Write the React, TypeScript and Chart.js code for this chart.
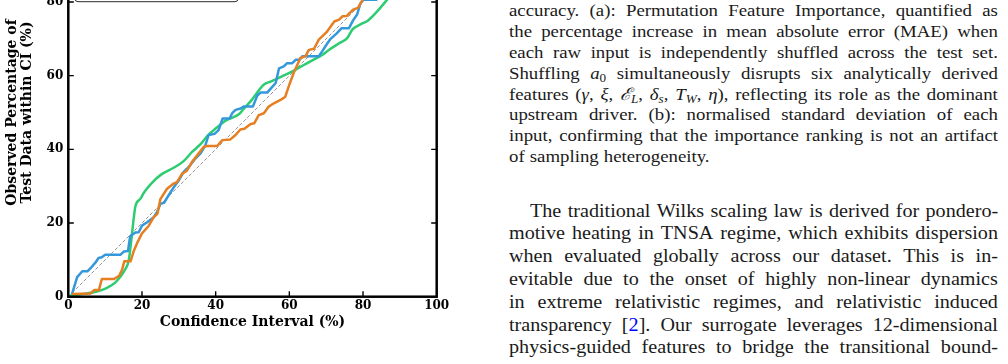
import React, { useEffect, useRef } from 'react';
import { Chart, registerables } from 'chart.js';

Chart.register(...registerables);

// Calibration curves: nominal confidence interval (%) vs observed coverage (%)
const ciBlue = [1, 2.4, 3.8, 5.2, 6.1, 7.4, 8.2, 9.1, 10, 14.2, 15.1, 16.2, 16.8, 18.2, 19.1, 20, 21.4, 23.2, 24.1, 25, 26, 26.9, 28.5, 30, 31.3, 32.7, 34.5, 35.9, 37.2, 38.1, 39.7, 40.8, 41.9, 43.8, 44.5, 45.4, 46.8, 47.6, 50.1, 51.3, 52.2, 54, 55.3, 56.3, 57.2, 58.5, 59.4, 60.8, 61.7, 62.8, 63.6, 68, 68.9, 70.2, 71.2, 72.8, 74.2, 76.2, 77.3, 78.4, 79.3, 80.1, 83.6, 87, 90, 95, 100];
const obsBlue = [0.7, 5.3, 6.9, 6.9, 7.8, 9.3, 10.5, 10.7, 11.4, 11.4, 12.3, 12.4, 16.4, 17.4, 17.5, 19.3, 20.2, 21.6, 23, 25.2, 25.5, 27, 29.5, 31.6, 33.9, 35.2, 37.5, 38.9, 41.1, 43.9, 44.2, 45.2, 48.4, 48.4, 49.8, 50.7, 51.1, 51.6, 51.6, 54.6, 55.4, 55.4, 56.9, 58, 62, 62.5, 63.4, 63.4, 64.3, 64.3, 65.3, 65.3, 66.6, 68.6, 70, 71.4, 72.9, 72.9, 75, 76.6, 79.6, 80.6, 80.6, 84, 88, 93, 100];

const ciOrange = [1, 6.1, 7, 8.3, 9.1, 12.4, 13.8, 14.6, 15.2, 16.9, 17.8, 18.7, 20, 21.8, 23.2, 24.2, 25, 26.8, 28.6, 29.5, 30.9, 32.2, 33.6, 35.4, 36.8, 37.7, 40.4, 41.8, 44, 45.4, 46.7, 47.8, 49.5, 50.5, 51.7, 53.1, 54.4, 55.8, 57.6, 58.9, 59.9, 61.2, 63, 64.4, 65.3, 66.7, 68, 70.1, 72.2, 73.5, 74.4, 75.6, 77.3, 78.6, 80, 85, 90, 95, 100];
const obsOrange = [0.7, 0.9, 1.8, 1.8, 4.8, 4.8, 5.7, 7.3, 9.6, 9.6, 12.5, 14.6, 17.2, 19.2, 21.6, 22.5, 26.5, 29.3, 30.7, 31.1, 33.4, 34.2, 36.6, 38.9, 40.7, 40.9, 40.9, 42.5, 42.7, 43.9, 45.4, 45.6, 46.9, 47.1, 49.3, 49.8, 51.6, 52.5, 53.4, 54.3, 57.3, 60.8, 64.8, 65.3, 67, 67.3, 69.8, 71.8, 74.7, 75.2, 76.1, 76.2, 77.9, 78.4, 80.7, 86, 90, 95, 100];

const ciGreen = [0.5, 3, 6.9, 10.5, 12.8, 14.1, 15.5, 16.4, 17, 17.8, 18.2, 19.6, 20.5, 22.7, 25, 28.6, 31.3, 33.6, 35.9, 37.7, 40.4, 42.7, 46.3, 47.6, 49.7, 53.1, 54.9, 58, 61.5, 63.9, 66.7, 68.9, 70.9, 73.5, 75.7, 77.1, 79.3, 81.4, 83.9, 86.6, 90, 95, 100];
const obsGreen = [0.3, 0.6, 1.2, 2.4, 3.9, 5.4, 7.5, 9.8, 14.4, 21.6, 24.5, 26.6, 28.2, 30.9, 33, 35, 36.8, 39.3, 41.4, 43.6, 46, 47.8, 49.5, 51, 53.3, 57.6, 58.4, 59.8, 61.5, 62.9, 64.4, 65.6, 67.1, 68.8, 70.2, 72.5, 73.9, 75, 77.5, 80.7, 85, 91, 100];

// Perfect calibration diagonal
const idealLine = [0, 100];

const axisTicks = [0, 20, 40, 60, 80, 100];
const xTitle = 'Confidence Interval (%)';
const yTitle = ['Observed Percentage of', 'Test Data within CI (%)'];

const toPoints = (xs: number[], ys: number[]) => xs.map((x, i) => ({ x, y: ys[i] }));

const CANVAS_W = 470;
const CANVAS_H = 454;
const CANVAS_TOP = -90;

const tickFont = { family: 'DejaVu Serif', weight: 'bold' as const, size: 12 };
const titleFont = { family: 'DejaVu Serif', weight: 'bold' as const, size: 14, lineHeight: 1.04 };

// Boxed axes with inward tick marks, plus the legend frame
const framePlugin = {
  id: 'boxedFrame',
  afterDatasetsDraw(chart: any) {
    const { ctx, chartArea: a, scales } = chart;
    const xs = scales.x;
    const ys = scales.y;
    ctx.save();

    // legend frame (upper-left inside the axes)
    const lx = a.left + 6.7;
    const lw = 163;
    const ly = a.top + 7;
    const lh = 66.4;
    const r = 3;
    ctx.beginPath();
    ctx.moveTo(lx + r, ly);
    ctx.arcTo(lx + lw, ly, lx + lw, ly + lh, r);
    ctx.arcTo(lx + lw, ly + lh, lx, ly + lh, r);
    ctx.arcTo(lx, ly + lh, lx, ly, r);
    ctx.arcTo(lx, ly, lx + lw, ly, r);
    ctx.closePath();
    ctx.fillStyle = 'rgba(255,255,255,0.9)';
    ctx.fill();
    ctx.strokeStyle = '#2a2a2a';
    ctx.lineWidth = 1;
    ctx.stroke();

    // inward ticks on all four sides
    const tl = 5.5;
    ctx.strokeStyle = '#000';
    ctx.lineWidth = 1.4;
    ctx.beginPath();
    for (const v of axisTicks) {
      const px = xs.getPixelForValue(v);
      const py = ys.getPixelForValue(v);
      ctx.moveTo(px, a.bottom);
      ctx.lineTo(px, a.bottom - tl);
      ctx.moveTo(px, a.top);
      ctx.lineTo(px, a.top + tl);
      ctx.moveTo(a.left, py);
      ctx.lineTo(a.left + tl, py);
      ctx.moveTo(a.right, py);
      ctx.lineTo(a.right - tl, py);
    }
    ctx.stroke();

    // spines
    ctx.lineWidth = 2.5;
    ctx.strokeRect(a.left, a.top, a.right - a.left, a.bottom - a.top);
    ctx.restore();
  },
};

function CalibrationChart() {
  const ref = useRef<HTMLCanvasElement | null>(null);

  useEffect(() => {
    if (!ref.current) return;
    const chart = new Chart(ref.current, {
      type: 'line',
      data: {
        datasets: [
          {
            label: 'orange',
            data: toPoints(ciOrange, obsOrange),
            borderColor: '#e67e22',
            borderWidth: 2.5,
            tension: 0,
            order: 1,
          },
          {
            label: 'blue',
            data: toPoints(ciBlue, obsBlue),
            borderColor: '#3498db',
            borderWidth: 2.5,
            tension: 0,
            order: 2,
          },
          {
            label: 'green',
            data: toPoints(ciGreen, obsGreen),
            borderColor: '#2ecc71',
            borderWidth: 2.5,
            cubicInterpolationMode: 'monotone',
            order: 3,
          },
          {
            label: 'ideal',
            data: toPoints(idealLine, idealLine),
            borderColor: 'rgba(0,0,0,0.42)',
            borderWidth: 1,
            borderDash: [3.5, 2],
            order: 4,
          },
        ],
      },
      options: {
        animation: false,
        responsive: false,
        devicePixelRatio: 1,
        layout: { padding: { left: 0, top: 18.3, right: 33.3, bottom: 34.2 } },
        elements: { point: { radius: 0 }, line: { fill: false, borderCapStyle: 'butt', borderJoinStyle: 'round' } },
        plugins: { legend: { display: false }, tooltip: { enabled: false } },
        scales: {
          x: {
            type: 'linear',
            min: 0,
            max: 100,
            afterFit: (s: any) => {
              s.height = 33.1;
            },
            afterBuildTicks: (s: any) => {
              s.ticks = axisTicks.map((v) => ({ value: v }));
            },
            grid: { display: false, drawTicks: false, tickLength: 0 },
            border: { display: false },
            ticks: { padding: 2, color: '#000', font: tickFont, maxRotation: 0, autoSkip: false },
            title: { display: true, text: xTitle, color: '#000', font: titleFont, padding: 0 },
          },
          y: {
            type: 'linear',
            min: 0,
            max: 100,
            afterFit: (s: any) => {
              s.width = 68.3;
            },
            afterBuildTicks: (s: any) => {
              s.ticks = axisTicks.map((v) => ({ value: v }));
            },
            grid: { display: false, drawTicks: false, tickLength: 0 },
            border: { display: false },
            ticks: { padding: 5, color: '#000', font: tickFont, autoSkip: false },
            title: { display: true, text: yTitle, color: '#000', font: titleFont, padding: { top: 5.2, bottom: 0 } },
          },
        },
      },
      plugins: [framePlugin],
    } as any);
    return () => chart.destroy();
  }, []);

  return (
    <canvas
      ref={ref}
      width={CANVAS_W}
      height={CANVAS_H}
      style={{ position: 'absolute', left: 0, top: CANVAS_TOP, width: CANVAS_W, height: CANVAS_H }}
    />
  );
}

const Sub = ({ children }: { children: React.ReactNode }) => (
  <span style={{ fontSize: '0.7em', position: 'relative', top: '0.3em', lineHeight: 0 }}>{children}</span>
);
const I = ({ children }: { children: React.ReactNode }) => <i>{children}</i>;

const w = (s: string): React.ReactNode[] => s.split(' ');

const captionLines: React.ReactNode[][] = [
  w('accuracy. (a): Permutation Feature Importance, quantified as'),
  w('the percentage increase in mean absolute error (MAE) when'),
  w('each raw input is independently shuffled across the test set.'),
  ['Shuffling', <><I>a</I><Sub>0</Sub></>, ...w('simultaneously disrupts six analytically derived')],
  [
    'features',
    <>(<I>γ</I>,</>,
    <><I>ξ</I>,</>,
    <><I>ℰ</I><Sub><I>L</I></Sub>,</>,
    <><I>δ</I><Sub><I>s</I></Sub>,</>,
    <><I>T</I><Sub><I>W</I></Sub>,</>,
    <><I>η</I>),</>,
    ...w('reflecting its role as the dominant'),
  ],
  w('upstream driver. (b): normalised standard deviation of each'),
  w('input, confirming that the importance ranking is not an artifact'),
  w('of sampling heterogeneity.'),
];

const bodyLines: React.ReactNode[][] = [
  w('The traditional Wilks scaling law is derived for pondero-'),
  w('motive heating in TNSA regime, which exhibits dispersion'),
  w('when evaluated globally across our dataset. This is in-'),
  w('evitable due to the onset of highly non-linear dynamics'),
  w('in extreme relativistic regimes, and relativistic induced'),
  ['transparency', <>[<span style={{ color: '#0000ff' }}>2</span>].</>, ...w('Our surrogate leverages 12-dimensional')],
  w('physics-guided features to bridge the transitional bound-'),
];

const COLUMN_LEFT = 509.3;
const COLUMN_WIDTH = 489;

function TextLine({ tokens, top, size, lh, justify, indent, stretch }: { tokens: React.ReactNode[]; top: number; size: number; lh: number; justify: boolean; indent: number; stretch: number }) {
  return (
    <div
      style={{
        position: 'absolute',
        left: COLUMN_LEFT + indent,
        width: (COLUMN_WIDTH - indent) / stretch,
        top,
        height: lh,
        display: 'flex',
        justifyContent: justify ? 'space-between' : 'flex-start',
        columnGap: justify ? 0 : '0.27em',
        fontSize: size,
        lineHeight: `${lh}px`,
        whiteSpace: 'nowrap',
        transform: `scaleX(${stretch})`,
        transformOrigin: '0 0',
      }}
    >
      {tokens.map((t, i) => (
        <span key={i}>{t}</span>
      ))}
    </div>
  );
}

export default function App() {
  const capSize = 17.1;
  const capLh = 20.86;
  const bodySize = 19;
  const bodyLh = 22.8;
  return (
    <div style={{ position: 'absolute', left: 0, top: 0, width: 1008, height: 364, overflow: 'hidden', background: '#fff' }}>
      <CalibrationChart />
      <div style={{ fontFamily: '"Liberation Serif", "DejaVu Serif", serif', color: '#1a1a1a' }}>
        {captionLines.map((tokens, i) => (
          <TextLine key={'c' + i} tokens={tokens} top={1.1 + i * capLh} size={capSize} lh={capLh} justify={i < captionLines.length - 1} indent={0} stretch={1.1} />
        ))}
        {bodyLines.map((tokens, i) => (
          <TextLine key={'b' + i} tokens={tokens} top={199.5 + i * bodyLh} size={bodySize} lh={bodyLh} justify={true} indent={i === 0 ? 20.7 : 0} stretch={1.06} />
        ))}
      </div>
    </div>
  );
}
